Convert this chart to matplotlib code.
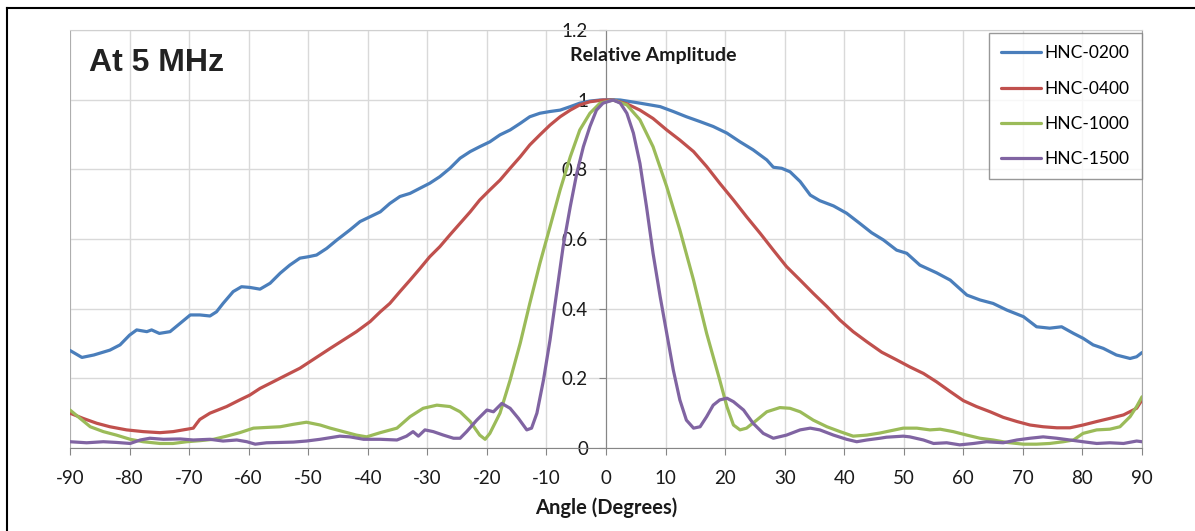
import matplotlib.pyplot as plt
from matplotlib.lines import Line2D

# beam profiles, angle in degrees
blue_ang = [-90, -88, -86, -83.3, -81.6, -80, -78.8, -77.1, -76.3, -75, -73.2, -71.5, -69.8, -68.2, -66.5,
            -65.4, -64.3, -62.6, -61.2, -59.8, -58.1, -56.4, -54.7, -53.1, -51.4, -50, -48.6, -46.9, -45.2,
            -43, -41.3, -39.6, -37.9, -36.3, -34.6, -32.9, -31.2, -29.6, -27.9, -26.2, -24.5, -22.8, -21.2,
            -19.5, -17.8, -16.1, -14.4, -12.8, -11.1, -9.4, -7.7, -6, -4.4, -2.7, -1, 1, 2.4, 5.7, 9.1, 11.3,
            13.5, 15.8, 18, 20.3, 22.5, 24.7, 27, 28.1, 29.5, 30.9, 32.6, 34.3, 35.9, 38.2, 40.4, 42.6, 44.6,
            46.6, 48.8, 50.5, 52.7, 55.5, 57.8, 60.6, 62.8, 65, 67.3, 70.1, 72.3, 74.5, 76.5, 78.5, 80.1,
            81.8, 83.5, 85.7, 88, 89.1, 90]
blue_amp = [0.28, 0.26, 0.267, 0.281, 0.296, 0.324, 0.339, 0.334, 0.339, 0.329, 0.334, 0.358, 0.382, 0.382,
            0.379, 0.391, 0.415, 0.449, 0.463, 0.461, 0.456, 0.473, 0.502, 0.525, 0.545, 0.549, 0.554, 0.573,
            0.597, 0.626, 0.65, 0.664, 0.678, 0.702, 0.722, 0.731, 0.746, 0.76, 0.779, 0.803, 0.832, 0.851,
            0.865, 0.879, 0.899, 0.913, 0.932, 0.951, 0.961, 0.966, 0.97, 0.98, 0.99, 0.996, 0.999, 1.0,
            0.999, 0.99, 0.98, 0.966, 0.951, 0.937, 0.923, 0.904, 0.879, 0.856, 0.827, 0.806, 0.803, 0.793,
            0.765, 0.726, 0.71, 0.695, 0.674, 0.645, 0.618, 0.597, 0.568, 0.559, 0.525, 0.503, 0.482, 0.439,
            0.425, 0.415, 0.396, 0.377, 0.348, 0.344, 0.348, 0.329, 0.315, 0.296, 0.286, 0.267, 0.257,
            0.262, 0.274]

red_ang = [-90, -87.8, -85.5, -83.3, -80.5, -77.7, -74.9, -72.7, -71, -69.3, -68.7, -68.2, -66.5, -63.7,
           -61.5, -59.8, -58.1, -55.9, -53.6, -51.4, -49.7, -48, -46.3, -44.1, -41.9, -39.6, -37.9, -36.3,
           -34.6, -32.9, -31.2, -29.6, -27.9, -26.2, -24.5, -22.8, -21.2, -19.5, -17.8, -16.1, -14.4, -12.8,
           -11.1, -9.4, -7.7, -6, -4.4, -2.7, -0.5, 1.2, 3.5, 5.7, 7.9, 10.2, 12.4, 14.7, 16.9, 19.1, 21.4,
           23.6, 25.9, 28.1, 30.3, 32.6, 34.8, 37.1, 39.3, 41.5, 43.8, 46.3, 48.8, 51, 53.3, 55.5, 57.8, 60,
           62.2, 64.5, 66.7, 69, 71.2, 73.4, 75.7, 77.9, 80.1, 82.4, 84.6, 86.9, 89.1, 90]
red_amp = [0.1, 0.085, 0.071, 0.061, 0.052, 0.047, 0.044, 0.047, 0.052, 0.057, 0.071, 0.082, 0.1, 0.119,
           0.138, 0.152, 0.171, 0.19, 0.21, 0.229, 0.248, 0.267, 0.286, 0.31, 0.334, 0.363, 0.391, 0.415,
           0.449, 0.482, 0.516, 0.549, 0.578, 0.612, 0.645, 0.678, 0.712, 0.741, 0.769, 0.803, 0.836, 0.87,
           0.899, 0.927, 0.951, 0.97, 0.985, 0.994, 0.999, 0.999, 0.988, 0.97, 0.946, 0.913, 0.884, 0.851,
           0.808, 0.76, 0.712, 0.664, 0.616, 0.568, 0.521, 0.482, 0.444, 0.406, 0.367, 0.334, 0.305, 0.275,
           0.253, 0.233, 0.214, 0.19, 0.162, 0.136, 0.119, 0.104, 0.088, 0.076, 0.066, 0.061, 0.058, 0.058,
           0.066, 0.076, 0.085, 0.095, 0.114, 0.138]

green_ang = [-90, -88.3, -86.6, -84.4, -82.2, -79.9, -77.7, -74.9, -72.7, -70.4, -68.2, -65.9, -63.7, -61.5,
             -59.2, -57, -54.7, -52.5, -50.3, -48, -46.3, -44.1, -41.9, -40.2, -37.9, -35.1, -32.9, -30.7,
             -28.4, -26.2, -24.5, -22.8, -21.2, -20.3, -19.5, -17.8, -16.1, -14.4, -12.8, -11.1, -9.4, -7.7,
             -6, -4.4, -2.7, -1, 1.2, 3.5, 5.7, 7.9, 10.2, 12.4, 14.7, 16.9, 19.1, 20.3, 21.4, 22.5, 23.6,
             25.3, 27, 29.2, 30.9, 32.6, 34.8, 37.1, 39.3, 41.5, 43.8, 46, 47.1, 49.9, 52.2, 54.4, 56.1, 58.3,
             60.6, 62.8, 65, 67.3, 70.1, 72.3, 74.5, 76.8, 78.5, 80.1, 82.4, 84.6, 86.3, 88, 89.1, 90]
green_amp = [0.109, 0.085, 0.061, 0.047, 0.037, 0.025, 0.018, 0.013, 0.013, 0.018, 0.021, 0.025, 0.034,
             0.044, 0.057, 0.059, 0.061, 0.068, 0.074, 0.066, 0.057, 0.047, 0.037, 0.032, 0.044, 0.057, 0.09,
             0.114, 0.123, 0.119, 0.104, 0.076, 0.037, 0.025, 0.042, 0.1, 0.195, 0.301, 0.415, 0.53, 0.635,
             0.741, 0.836, 0.913, 0.961, 0.99, 0.999, 0.985, 0.942, 0.865, 0.75, 0.626, 0.482, 0.329, 0.195,
             0.119, 0.066, 0.052, 0.057, 0.08, 0.104, 0.116, 0.114, 0.104, 0.08, 0.061, 0.047, 0.034, 0.037,
             0.043, 0.047, 0.057, 0.057, 0.052, 0.054, 0.047, 0.037, 0.028, 0.023, 0.016, 0.011, 0.011, 0.013,
             0.018, 0.023, 0.042, 0.052, 0.054, 0.061, 0.09, 0.119, 0.147]

purple_ang = [-90, -87.2, -84.4, -82.2, -79.9, -78.2, -76.6, -74.3, -71.5, -69.3, -66.5, -64.3, -62, -60.3,
              -58.9, -57, -54.7, -52.5, -50.3, -48, -45.8, -44.7, -43, -40.7, -37.9, -35.1, -33.5, -32.4,
              -31.5, -30.4, -29, -27.3, -25.6, -24.5, -23.4, -21.7, -20, -18.9, -17.5, -16.1, -14.7, -13.3,
              -12.5, -11.6, -10.5, -9.4, -8.3, -7.2, -6, -4.9, -3.8, -2.7, -1.6, -0.5, 1.2, 2.4, 3.5, 4.6,
              5.7, 6.8, 7.9, 9.1, 10.2, 11.3, 12.4, 13.5, 14.7, 15.8, 16.9, 18, 19.1, 20.3, 21.4, 23.1, 24.7,
              26.4, 28.1, 30.3, 32.6, 34.3, 35.9, 38.2, 40.4, 42.1, 43.8, 46, 47.1, 49.9, 51, 53.3, 55, 57.2,
              59.4, 61.7, 63.9, 66.7, 69, 71.2, 73.4, 75.7, 77.9, 80.1, 82.4, 84.6, 86.9, 89.1, 90]
purple_amp = [0.018, 0.015, 0.018, 0.016, 0.013, 0.023, 0.028, 0.025, 0.026, 0.023, 0.025, 0.02, 0.023,
              0.018, 0.011, 0.015, 0.016, 0.017, 0.02, 0.025, 0.031, 0.034, 0.032, 0.025, 0.025, 0.023,
              0.034, 0.047, 0.034, 0.052, 0.047, 0.037, 0.028, 0.028, 0.047, 0.08, 0.109, 0.104, 0.128,
              0.114, 0.085, 0.052, 0.057, 0.1, 0.195, 0.31, 0.444, 0.578, 0.693, 0.789, 0.865, 0.923, 0.97,
              0.99, 0.999, 0.99, 0.961, 0.904, 0.817, 0.693, 0.559, 0.434, 0.329, 0.224, 0.138, 0.08, 0.057,
              0.061, 0.09, 0.123, 0.138, 0.143, 0.133, 0.109, 0.071, 0.042, 0.028, 0.037, 0.052, 0.057,
              0.052, 0.037, 0.025, 0.018, 0.023, 0.028, 0.031, 0.034, 0.032, 0.023, 0.013, 0.015, 0.009,
              0.013, 0.018, 0.015, 0.023, 0.028, 0.032, 0.028, 0.023, 0.018, 0.013, 0.015, 0.013, 0.02, 0.018]

labels = ['HNC-0200', 'HNC-0400', 'HNC-1000', 'HNC-1500']
colors = ['#4a7ebb', '#c0504d', '#9bbb59', '#8064a2']
x_ticks = list(range(-90, 91, 10))
y_ticks = [0, 0.2, 0.4, 0.6, 0.8, 1, 1.2]
y_labels = ['0', '0.2', '0.4', '0.6', '0.8', '1', '1.2']

W, H = 1195, 531
fig = plt.figure(figsize=(W / 100, H / 100), dpi=100, facecolor='white')
ax = fig.add_axes([70 / W, 1 - 448 / H, (1142 - 70) / W, (448 - 30) / H])

series = [(blue_ang, blue_amp), (red_ang, red_amp), (green_ang, green_amp), (purple_ang, purple_amp)]
for (a, v), lab, c in zip(series, labels, colors):
    ax.plot(a, v, color=c, lw=2.3, label=lab, solid_joinstyle='round', solid_capstyle='round', zorder=3)

ax.set_xlim(-90, 90)
ax.set_ylim(0, 1.2)
ax.set_xticks(x_ticks)
ax.set_xticklabels([str(t) for t in x_ticks])
ax.set_yticks(y_ticks)
ax.set_yticklabels(y_labels)
ax.grid(True, color='#d9d9d9', lw=1, zorder=0)
ax.set_axisbelow(True)

ax.spines['left'].set_position(('data', 0))
ax.spines['left'].set_color('#868686')
ax.spines['bottom'].set_color('#868686')
ax.spines['top'].set_color('#d0d0d0')
ax.spines['right'].set_color('#a6a6a6')
ax.axvline(-90, color='#a6a6a6', lw=1.2, zorder=1)

ax.tick_params(axis='both', direction='out', length=5, color='#868686', labelsize=13.5)
ax.tick_params(axis='x', pad=11)
ax.tick_params(axis='y', pad=8)
for t in ax.get_xticklabels() + ax.get_yticklabels():
    t.set_family('Lato')
    t.set_color('#1a1a1a')

fig.text(89 / W, 1 - 63 / H, 'At 5 MHz', fontsize=23, fontweight='bold', family='Liberation Sans',
         color='#222222', va='center', ha='left')
fig.text(653 / W, 1 - 55 / H, 'Relative Amplitude', fontsize=14, fontweight='bold', family='Lato',
         color='#1a1a1a', va='center', ha='center')
fig.text(606 / W, 1 - 508 / H, 'Angle (Degrees)', fontsize=14.5, fontweight='bold', family='Lato',
         color='#1a1a1a', va='center', ha='center')

leg = ax.legend(loc='upper right', bbox_to_anchor=(1142 / W, 1 - 33 / H), bbox_transform=fig.transFigure,
                prop={'family': 'Lato', 'size': 12.5}, frameon=True, fancybox=False, handlelength=2.3,
                handletextpad=0.2, labelspacing=1.1, borderpad=0.72, borderaxespad=0)
leg.get_frame().set_edgecolor('#7f7f7f')
leg.get_frame().set_linewidth(1)
for line in leg.get_lines():
    line.set_linewidth(2.3)

# outer chart border (only left and top edges fall inside the picture)
fig.add_artist(Line2D([7 / W, 7 / W], [0, 1 - 8 / H], color='black', lw=1.5, transform=fig.transFigure))
fig.add_artist(Line2D([7 / W, 1], [1 - 8 / H, 1 - 8 / H], color='black', lw=1.5, transform=fig.transFigure))

fig.savefig('out.png', dpi=100, facecolor='white')
